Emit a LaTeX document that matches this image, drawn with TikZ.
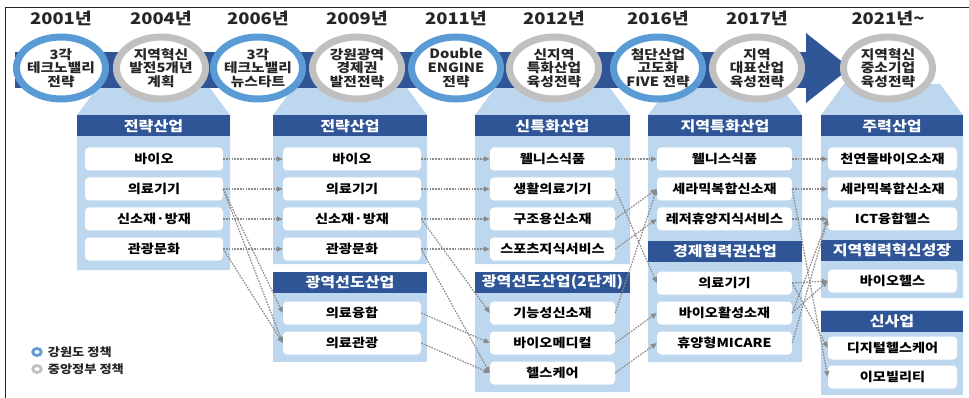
\documentclass[tikz,border=0pt]{standalone}
\usepackage{fontspec}
\setmainfont{Noto Sans CJK KR}[FakeStretch=1.15]
\usetikzlibrary{arrows.meta,positioning,shapes.geometric}

\definecolor{navy}{HTML}{2F5597}
\definecolor{paleblue}{HTML}{BDD7EE}
\definecolor{ringblue}{HTML}{5B9BD5}
\definecolor{ringgray}{HTML}{C0C0C0}
\definecolor{darktext}{HTML}{262626}
\definecolor{dotgray}{HTML}{8A8A8A}

\begin{document}
\begin{tikzpicture}[x=1pt, y=-1pt,
    ring/.style={ellipse, draw=#1, line width=7pt, fill=white, minimum width=89pt, minimum height=62pt, inner sep=0pt},
    ringtext/.style={align=center, font=\fontsize{12.8}{13.6}\selectfont\bfseries, text=darktext, inner sep=0pt},
    year/.style={font=\fontsize{16}{16}\selectfont\bfseries, text=darktext, inner sep=0pt},
    head/.style={fill=navy, text=white, font=\fontsize{14}{14}\selectfont\bfseries, inner sep=0pt, minimum height=21pt},
    item/.style={fill=white, rounded corners=4pt, text=black, font=\fontsize{12.3}{12.3}\selectfont\bfseries, inner sep=0pt, minimum height=23pt},
    flow/.style={draw=dotgray, dash pattern=on 1.6pt off 1.2pt, line width=1.2pt, -{Triangle[length=6pt,width=5pt]}},
    legendtext/.style={font=\fontsize{11.5}{11.5}\selectfont\bfseries, text=darktext, inner sep=0pt}]
  \useasboundingbox (0,0) rectangle (969,398);
  % frame
  \draw[line width=1pt, black!85] (5.5,398) -- (5.5,7.5) -- (969,7.5);

  % light blue panels under the rings
  \foreach \l/\r/\b in {77/230/270,273/427/264,475/630/264,648/802/362,821/963/298} {
    \fill[paleblue] (\l,\b) -- (\l,115) -- (\l+23,84) -- (\r-23,84) -- (\r,115) -- (\r,\b) -- cycle;
  }
  \fill[paleblue] (273,272) rectangle (427,362);
  \fill[paleblue] (475,272) rectangle (630,392);
  \fill[paleblue] (821,310) rectangle (963,395);

  % timeline arrow
  \fill[navy] (15,52) rectangle (810,88);
  \fill[navy] (806,33) -- (850,68) -- (806,103) -- cycle;

  % policy rings and years
  \foreach \x/\yr/\col/\txt [count=\i] in {61/2001년/ringblue/{3각\\테크노밸리\\전략},
      161/2004년/ringgray/{지역혁신\\발전5개년\\계획},
      258/2006년/ringblue/{3각\\테크노밸리\\뉴스타트},
      357/2009년/ringgray/{강원광역\\경제권\\발전전략},
      456/2011년/ringblue/{Double\\ENGINE\\전략},
      554/2012년/ringgray/{신지역\\특화산업\\육성전략},
      658/2016년/ringblue/{첨단산업\\고도화\\FIVE 전략},
      757/2017년/ringgray/{지역\\대표산업\\육성전략},
      888/2021년\textasciitilde/ringgray/{지역혁신\\중소기업\\육성전략}} {
    \node[year] (yr\i) at (\x,18) {\yr};
    \node[ring=\col] (ring\i) at (\x,68) {};
    \node[ringtext] (rt\i) at (ring\i) {\txt};
  }

  % panel 1
  \node[head, minimum width=153pt] (ha) at (153.5,126) {전략산업};
  \foreach \t [count=\i] in {바이오,의료기기,신소재·방재,관광문화}
    \node[item, minimum width=138pt] (a\i) at (154,129+\i*30) {\t};

  % panel 2
  \node[head, minimum width=154pt] (hb1) at (350,126) {전략산업};
  \foreach \t [count=\i] in {바이오,의료기기,신소재·방재,관광문화}
    \node[item, minimum width=138pt] (b\i) at (352,129+\i*30) {\t};
  \node[head, minimum width=154pt] (hb2) at (350,282.5) {광역선도산업};
  \foreach \t [count=\i from 5] in {의료융합,의료관광}
    \node[item, minimum width=138pt] (b\i) at (352,163+\i*30) {\t};

  % panel 3
  \node[head, minimum width=155pt] (hc1) at (552.5,126) {신특화산업};
  \foreach \t [count=\i] in {웰니스식품,생활의료기기,구조용신소재,스포츠지식서비스}
    \node[item, minimum width=125pt] (c\i) at (552.5,129+\i*30) {\t};
  \node[head, minimum width=155pt] (hc2) at (552.5,282.5) {광역선도산업(2단계)};
  \foreach \t [count=\i from 5] in {기능성신소재,바이오메디컬,헬스케어}
    \node[item, minimum width=125pt] (c\i) at (552.5,163+\i*30) {\t};

  % panel 4
  \node[head, minimum width=154pt] (hd1) at (725,126) {지역특화산업};
  \foreach \t [count=\i] in {웰니스식품,세라믹복합신소재,레저휴양지식서비스}
    \node[item, minimum width=135pt] (d\i) at (724.5,129+\i*30) {\t};
  \node[head, minimum width=154pt] (hd2) at (725,251.5) {경제협력권산업};
  \foreach \t [count=\i from 4] in {의료기기,바이오활성소재,휴양형MICARE}
    \node[item, minimum width=135pt] (d\i) at (724.5,163+\i*30) {\t};

  % panel 5
  \node[head, minimum width=142pt] (he1) at (892,126) {주력산업};
  \foreach \t [count=\i] in {천연물바이오소재,세라믹복합신소재,ICT융합헬스}
    \node[item, minimum width=129pt] (e\i) at (892.5,129+\i*30) {\t};
  \node[head, minimum width=142pt] (he2) at (892,250) {지역협력혁신성장};
  \node[item, minimum width=129pt] (e4) at (892.5,281) {바이오헬스};
  \node[head, minimum width=142pt] (he3) at (892,321) {신사업};
  \node[item, minimum width=129pt] (e5) at (892.5,348) {디지털헬스케어};
  \node[item, minimum width=129pt] (e6) at (892.5,377) {이모빌리티};

  % links between industries
  \foreach \s/\e in {a1/b1,a2/b2,a3/b3,a4/b4,a2/b5,a2/b6,a4/b6,
      b1/c1,b2/c2,b3/c3,b4/c4,b3/c5,b4/c7,b5/c6,b6/c7,
      c1/d1,c2/d4,c3/d2,c4/d3,c5/d2,c6/d5,c7/d6,
      d1/e1,d2/e2,d3/e3,d4/e4,d4/e5,d5/e3,d5/e4,d6/e3,d2/e6}
    \draw[flow] (\s.east) -- (\e.west);

  % legend
  \node[ellipse, draw=ringblue, line width=2.8pt, minimum width=8.5pt, minimum height=7pt, inner sep=0pt] (lg1) at (37,352) {};
  \node[legendtext, right=5pt of lg1] (lt1) {강원도 정책};
  \node[ellipse, draw=ringgray, line width=2.8pt, minimum width=8.5pt, minimum height=7pt, inner sep=0pt] (lg2) at (37,369) {};
  \node[legendtext, right=5pt of lg2] (lt2) {중앙정부 정책};
\end{tikzpicture}
\end{document}
